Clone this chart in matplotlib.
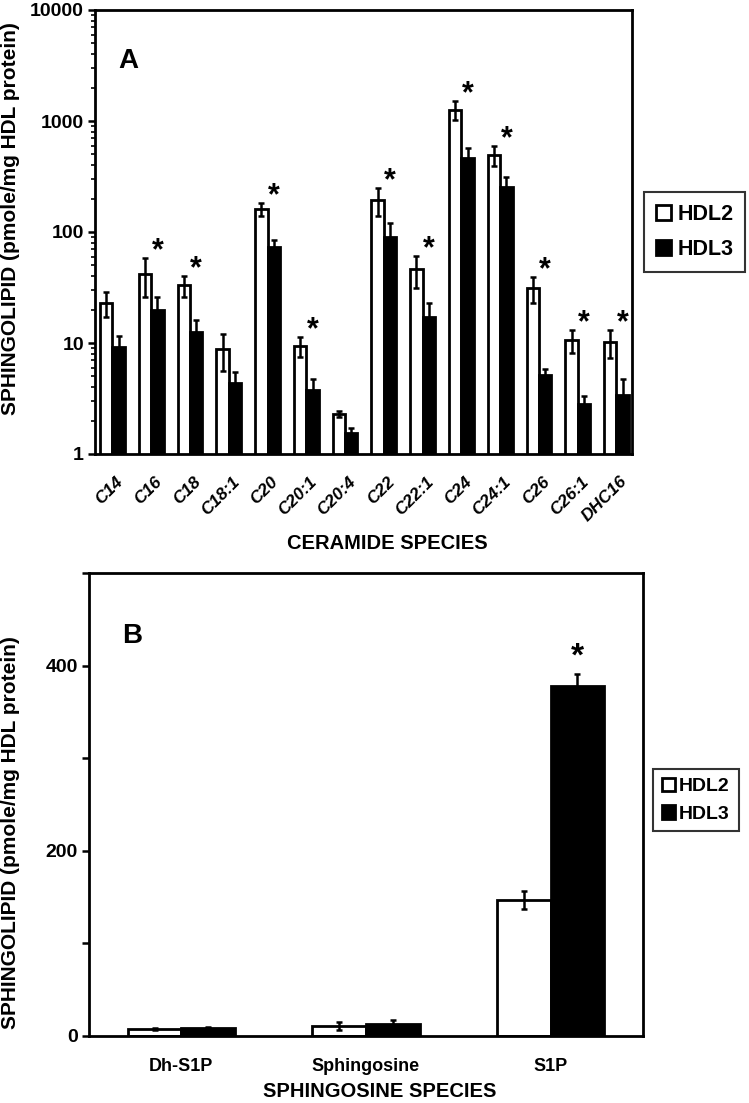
import matplotlib
matplotlib.use("Agg")
import matplotlib.pyplot as plt
import matplotlib.patches as mpatches
import numpy as np
from matplotlib.ticker import LogLocator, NullFormatter, FixedLocator, FixedFormatter

# panel A - ceramide species (log scale)
ceramides = ["C14", "C16", "C18", "C18:1", "C20", "C20:1", "C20:4",
             "C22", "C22:1", "C24", "C24:1", "C26", "C26:1", "DHC16"]
hdl2_cer = [23, 42, 33, 8.8, 161, 9.4, 2.3, 194, 46, 1260, 495, 31, 10.6, 10.2]
hdl2_cer_err = [6, 16, 7, 3.2, 21, 1.9, 0.15, 56, 15, 240, 100, 8, 2.4, 2.8]
hdl3_cer = [9.2, 20, 12.6, 4.4, 73, 3.8, 1.55, 90, 17, 465, 255, 5.1, 2.8, 3.4]
hdl3_cer_err = [2.3, 6, 3.4, 1.1, 12, 0.9, 0.15, 30, 6, 105, 60, 0.7, 0.5, 1.3]
cer_signif = [0, 1, 1, 0, 1, 1, 0, 1, 1, 1, 1, 1, 1, 1]

# panel B - sphingosine species
sphingosines = ["Dh-S1P", "Sphingosine", "S1P"]
hdl2_sph = [7.5, 11, 147]
hdl2_sph_err = [0.8, 4, 9.5]
hdl3_sph = [9, 12.5, 378]
hdl3_sph_err = [0.8, 4.5, 13]
sph_signif = [0, 0, 1]

ARIAL = ["Liberation Sans", "DejaVu Sans"]
plt.rcParams["font.family"] = ARIAL

fig = plt.figure(figsize=(7.49, 11.03), dpi=100)
axA = fig.add_axes([95 / 749, 1 - 454 / 1103, 537 / 749, 444 / 1103])
axB = fig.add_axes([89 / 749, 1 - 1036 / 1103, 554 / 749, 463 / 1103])

ekw = dict(elinewidth=1.8, capsize=2.2, capthick=1.8, ecolor="black")
ylab = "SPHINGOLIPID (pmole/mg HDL protein)"

# ---- panel A
axA.set_yscale("log")
x = np.arange(len(ceramides))
w = 0.32
axA.bar(x - w / 2, hdl2_cer, w, yerr=hdl2_cer_err, color="white",
        edgecolor="black", linewidth=2, error_kw=ekw)
axA.bar(x + w / 2, hdl3_cer, w, yerr=hdl3_cer_err, color="black",
        edgecolor="black", linewidth=2, error_kw=ekw)
axA.set_xlim(-0.45, 13.4)
axA.set_ylim(1, 10000)
axA.set_xticks(x)
axA.set_xticklabels([])
axA.tick_params(axis="x", length=0)
axA.yaxis.set_major_locator(FixedLocator([1, 10, 100, 1000, 10000]))
axA.yaxis.set_major_formatter(FixedFormatter(["1", "10", "100", "1000", "10000"]))
axA.yaxis.set_minor_locator(LogLocator(base=10, subs=np.arange(2, 10)))
axA.yaxis.set_minor_formatter(NullFormatter())
axA.tick_params(axis="y", which="major", length=5, width=1.8, pad=3, labelsize=14)
axA.tick_params(axis="y", which="minor", length=3, width=1.2)
for lbl in axA.get_yticklabels():
    lbl.set_fontweight("bold")

for i, c in enumerate(ceramides):
    axA.annotate(c, xy=(i, 0), xycoords=("data", "axes fraction"),
                 xytext=(6, -18), textcoords="offset points",
                 rotation=45, ha="right", va="center", rotation_mode="anchor",
                 fontsize=12.5, fontweight="bold", fontstyle="italic")
    if cer_signif[i]:
        axA.annotate("*", xy=(i + w / 2, hdl2_cer[i] + hdl2_cer_err[i]),
                     xytext=(0, 5), textcoords="offset points",
                     ha="center", va="center", fontsize=22, fontweight="bold")

axA.text(0.043, 0.915, "A", transform=axA.transAxes, fontsize=20,
         fontweight="bold", va="top", ha="left")
axA.set_ylabel(ylab, fontsize=15, fontweight="bold")
axA.yaxis.set_label_coords(-0.14, 0.53)
axA.set_xlabel("CERAMIDE SPECIES", fontsize=14.5, fontweight="bold")
axA.xaxis.set_label_coords(0.544, -0.18)

# ---- panel B
xb = np.arange(len(sphingosines))
wb = 0.29
axB.bar(xb - wb / 2, hdl2_sph, wb, yerr=hdl2_sph_err, color="white",
        edgecolor="black", linewidth=2, error_kw=ekw)
axB.bar(xb + wb / 2, hdl3_sph, wb, yerr=hdl3_sph_err, color="black",
        edgecolor="black", linewidth=2, error_kw=ekw)
axB.set_xlim(-0.5, 2.5)
axB.set_ylim(0, 500)
axB.set_xticks(xb)
axB.set_xticklabels(sphingosines, fontsize=13, fontweight="bold")
axB.tick_params(axis="x", length=0, pad=16)
axB.set_yticks([0, 200, 400])
axB.set_yticklabels(["0", "200", "400"], fontsize=14, fontweight="bold")
axB.yaxis.set_minor_locator(FixedLocator([100, 300, 500]))
axB.tick_params(axis="y", which="both", length=5, width=1.8, pad=3)
for i in range(len(sphingosines)):
    if sph_signif[i]:
        axB.annotate("*", xy=(i + wb / 2, hdl3_sph[i] + hdl3_sph_err[i]),
                     xytext=(0, 12), textcoords="offset points",
                     ha="center", va="center", fontsize=24, fontweight="bold")
axB.text(0.06, 0.892, "B", transform=axB.transAxes, fontsize=20,
         fontweight="bold", va="top", ha="left")
axB.set_ylabel(ylab, fontsize=15, fontweight="bold")
axB.yaxis.set_label_coords(-0.124, 0.44)
axB.set_xlabel("SPHINGOSINE SPECIES", fontsize=14.5, fontweight="bold")
axB.xaxis.set_label_coords(0.525, -0.1)

for ax in (axA, axB):
    for s in ax.spines.values():
        s.set_linewidth(2)

# legends
handles = [mpatches.Patch(facecolor="white", edgecolor="black", linewidth=2, label="HDL2"),
           mpatches.Patch(facecolor="black", edgecolor="black", linewidth=2, label="HDL3")]
legA = fig.legend(handles=handles, loc="upper left", bbox_to_anchor=(644 / 749, 1 - 192 / 1103),
                  borderaxespad=0, frameon=True, fancybox=False, edgecolor="black",
                  handlelength=0.7, handleheight=0.7, handletextpad=0.3, borderpad=0.55,
                  labelspacing=0.65, prop=dict(size=15.5, weight="bold"))
legA.get_frame().set_linewidth(1.5)
legB = fig.legend(handles=handles, loc="upper left", bbox_to_anchor=(653 / 749, 1 - 769 / 1103),
                  borderaxespad=0, frameon=True, fancybox=False, edgecolor="black",
                  handlelength=0.7, handleheight=0.7, handletextpad=0.2, borderpad=0.45,
                  labelspacing=0.5, prop=dict(size=14, weight="bold"))
legB.get_frame().set_linewidth(1.5)

fig.savefig("out.png", dpi=100, facecolor="white")
